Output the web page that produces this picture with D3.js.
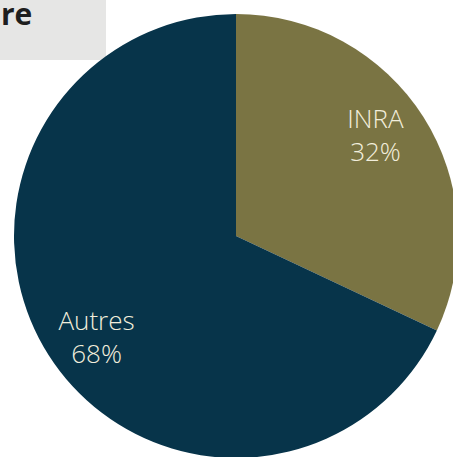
<!DOCTYPE html>
<html>
<head>
<meta charset="utf-8">
<script src="https://cdn.jsdelivr.net/npm/d3@7"></script>
<style>
  body { margin: 0; background: #fff; }
</style>
</head>
<body>
<div id="chart"></div>
<script>
// data
var labels = ["INRA", "Autres"];
var values = [32, 68];
var colors = ["#7a7443", "#07344a"];

var w = 453;
var h = 457;
var cx = 236, cy = 236, r = 222;

var svg = d3.select("#chart")
    .append("svg")
    .attr("width", w)
    .attr("height", h);

// grey title box (title cut off on the left)
svg.append("rect")
    .attr("x", 0)
    .attr("y", 0)
    .attr("width", 106)
    .attr("height", 60)
    .style("fill", "#e6e6e5");

svg.append("text")
    .attr("x", 1)
    .attr("y", 25)
    .style("font-family", "Open Sans, sans-serif")
    .style("font-weight", "bold")
    .style("font-size", "30px")
    .style("fill", "#1e1e1e")
    .text("re");

var pie = d3.pie().sort(null).value(function(d){ return d; });
var arc = d3.arc().innerRadius(0).outerRadius(r);

var g = svg.append("g")
    .attr("transform", "translate(" + cx + "," + cy + ")");

var arcs = pie(values);

g.selectAll("path")
    .data(arcs)
    .enter()
    .append("path")
    .attr("d", arc)
    .style("fill", function(d, i){ return colors[i]; });

// labels near the slice mid-angle, nudged a little anticlockwise
var lr = r * 0.775;
function labelPos(d) {
    var a = (d.startAngle + d.endAngle) / 2 - 0.06;
    return [Math.sin(a) * lr, -Math.cos(a) * lr];
}

var lab = g.selectAll(".lab")
    .data(arcs)
    .enter()
    .append("text")
    .attr("class", "lab")
    .attr("transform", function(d){ return "translate(" + labelPos(d) + ")"; })
    .attr("text-anchor", "middle")
    .style("font-family", "Open Sans, sans-serif")
    .style("font-weight", "300")
    .style("font-size", "26px")
    .style("fill", "#f2eedc");

lab.append("tspan")
    .attr("x", 0)
    .attr("dy", -7)
    .text(function(d, i){ return labels[i]; });

lab.append("tspan")
    .attr("x", 0)
    .attr("dy", 33)
    .text(function(d, i){ return values[i] + "%"; });
</script>
</body>
</html>
